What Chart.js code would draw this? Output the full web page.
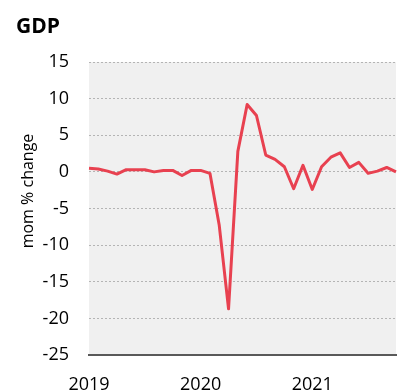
<!DOCTYPE html>
<html><head><meta charset="utf-8">
<script src="https://cdn.jsdelivr.net/npm/chart.js@4/dist/chart.umd.min.js"></script>
<style>html,body{margin:0;padding:0;background:#fff}</style>
</head><body>
<canvas id="c" width="404" height="392"></canvas>
<script>
// ---- data ----
const categories = [
  '2019-01','2019-02','2019-03','2019-04','2019-05','2019-06','2019-07','2019-08','2019-09','2019-10','2019-11','2019-12',
  '2020-01','2020-02','2020-03','2020-04','2020-05','2020-06','2020-07','2020-08','2020-09','2020-10','2020-11','2020-12',
  '2021-01','2021-02','2021-03','2021-04','2021-05','2021-06','2021-07','2021-08','2021-09','2021-10'
];
const gdpMoM = [
  0.5, 0.4, 0.1, -0.3, 0.3, 0.3, 0.3, 0.0, 0.2, 0.2, -0.5, 0.2,
  0.2, -0.2, -7.3, -18.7, 2.8, 9.2, 7.7, 2.3, 1.7, 0.7, -2.3, 0.9,
  -2.4, 0.7, 2.0, 2.6, 0.6, 1.3, -0.2, 0.1, 0.6, 0.0
];
const yearTickLabels = ['2019', '2020', '2021'];
const yMin = -25, yMax = 15, yStep = 5;
const chartTitle = 'GDP';
const yAxisTitle = 'mom % change';

const FONT = "'Open Sans', 'Liberation Sans', sans-serif";

const bgPlugin = {
  id: 'plotBg',
  beforeDraw(chart) {
    const {ctx, chartArea: a} = chart;
    ctx.save();
    ctx.fillStyle = '#f0f0f0';
    ctx.fillRect(a.left, a.top, a.right - a.left, a.bottom - a.top);
    ctx.restore();
  }
};
const textPlugin = {
  id: 'texts',
  afterDraw(chart) {
    const ctx = chart.ctx;
    ctx.save();
    ctx.fillStyle = '#000';
    ctx.font = "bold 21px " + FONT;
    ctx.textAlign = 'left';
    ctx.textBaseline = 'alphabetic';
    ctx.fillText(chartTitle, 16, 33);
    ctx.font = "16px " + FONT;
    ctx.translate(33, 191);
    ctx.rotate(-Math.PI / 2);
    ctx.textAlign = 'center';
    ctx.fillText(yAxisTitle, 0, 0);
    ctx.restore();
  }
};

new Chart(document.getElementById('c'), {
  type: 'line',
  data: {
    labels: categories,
    datasets: [{
      data: gdpMoM,
      borderColor: '#e84150',
      borderWidth: 3,
      pointRadius: 0,
      tension: 0,
      borderJoinStyle: 'round',
      fill: false
    }]
  },
  options: {
    responsive: false,
    animation: false,
    layout: { padding: { left: 0, right: 8, top: 62, bottom: 0 } },
    plugins: { legend: { display: false }, title: { display: false }, tooltip: { enabled: false } },
    scales: {
      x: {
        type: 'category',
        offset: false,
        grid: { display: false, drawTicks: false },
        border: { display: true, color: '#595959', width: 2 },
        ticks: {
          autoSkip: false,
          maxRotation: 0,
          padding: 19,
          color: '#000',
          font: { family: FONT, size: 18 },
          callback: function(v, i) {
            const lab = categories[i];
            const yr = lab.slice(0, 4);
            return (lab.endsWith('-01') && yearTickLabels.includes(yr)) ? yr : '';
          }
        },
        afterFit(scale) { scale.height = 37; scale.paddingLeft = 0; scale.paddingRight = 0; }
      },
      y: {
        min: yMin, max: yMax,
        grid: {
          drawTicks: false,
          lineWidth: 1,
          color: (c) => (c.tick && c.tick.value === yMin) ? 'rgba(0,0,0,0)' : '#b4b4b4'
        },
        border: { display: false, dash: [2, 2] },
        ticks: {
          stepSize: yStep,
          padding: 20,
          color: '#000',
          font: { family: FONT, size: 18 }
        },
        afterFit(scale) { scale.width = 89; scale.paddingTop = 0; scale.paddingBottom = 0; }
      }
    }
  },
  plugins: [bgPlugin, textPlugin]
});
</script>
</body></html>
